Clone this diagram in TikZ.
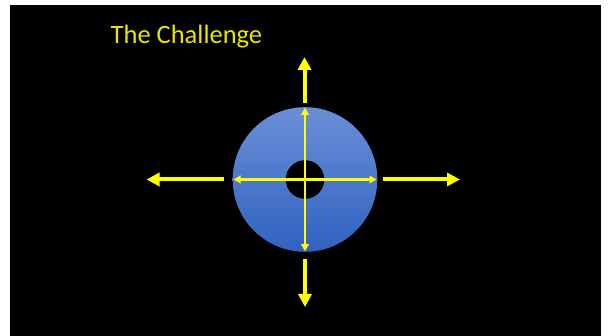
\documentclass[tikz,border=0pt]{standalone}
\usepackage{fontspec}
\setmainfont{Carlito}
\usetikzlibrary{arrows.meta}
\definecolor{titleyellow}{RGB}{230,230,0}
\definecolor{arrowyellow}{RGB}{255,255,0}
\definecolor{disctop}{RGB}{106,143,216}
\definecolor{discbot}{RGB}{48,98,192}
\tikzset{
  bigarrow/.style={draw=arrowyellow, line width=4pt, -{Triangle[length=13pt,width=13pt]}},
  thinarrow/.style={draw=arrowyellow, line width=2.2pt, {Triangle[length=7pt,width=7.5pt]}-{Triangle[length=7pt,width=7.5pt]}},
}
\begin{document}
\begin{tikzpicture}[x=1pt,y=-1pt]
\useasboundingbox (0,0) rectangle (608,336);
\fill[white] (0,0) rectangle (608,336);
\fill[black] (10,5) rectangle (601,336);
\node[anchor=base west, inner sep=0pt, text=titleyellow, font=\fontsize{26.5}{31}\selectfont] (title) at (110.5,43.3) {The Challenge};
\coordinate (c) at (305,179.5);
\shade[top color=disctop, bottom color=discbot] (c) circle (72.3);
\fill[black] (c) circle (19.3);
% inner arrows
\coordinate (il) at (233.5,179.5);
\coordinate (ir) at (376.5,179.5);
\coordinate (it) at (305,107.8);
\coordinate (ib) at (305,251.2);
\draw[thinarrow] (il) -- (ir);
\draw[thinarrow] (it) -- (ib);
% outer arrows
\coordinate (ls) at (224,179.5);
\coordinate (le) at (146.5,179.5);
\coordinate (rs) at (382.5,179.5);
\coordinate (re) at (460,179.5);
\coordinate (us) at (304.5,103.5);
\coordinate (ue) at (304.5,57);
\coordinate (ds) at (305,259);
\coordinate (de) at (305,307);
\draw[bigarrow] (ls) -- (le);
\draw[bigarrow] (rs) -- (re);
\draw[bigarrow] (us) -- (ue);
\draw[bigarrow] (ds) -- (de);
\end{tikzpicture}
\end{document}
